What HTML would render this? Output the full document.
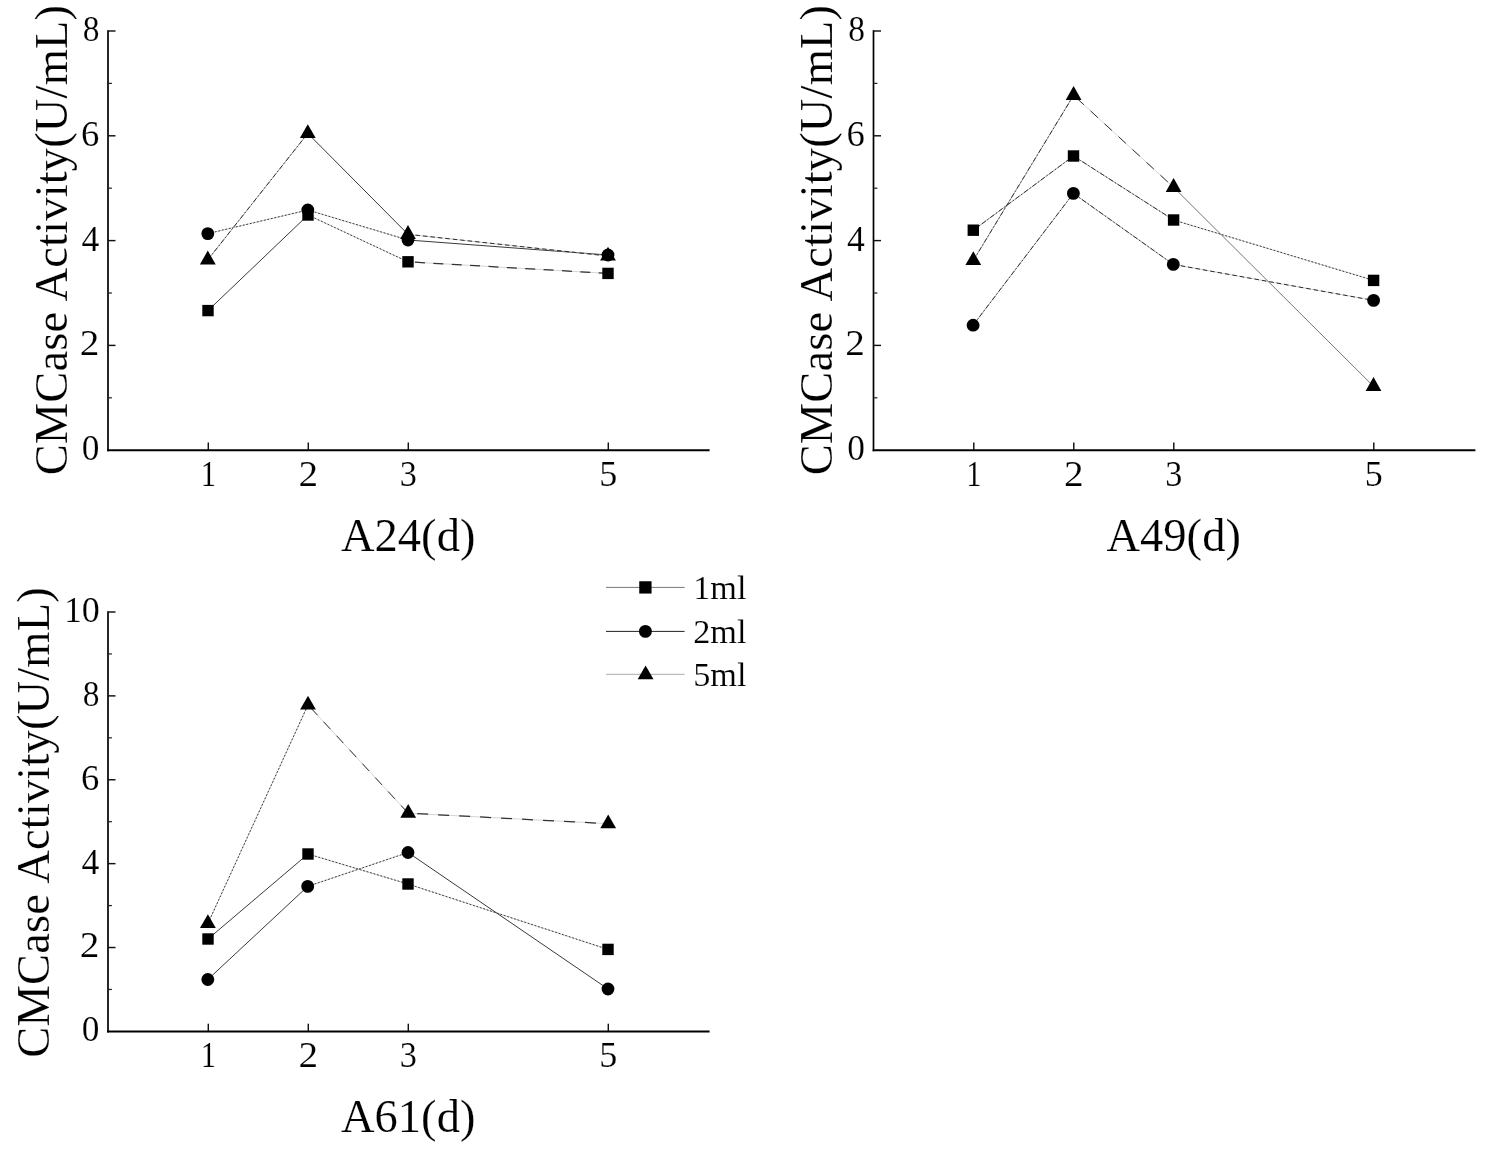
<!DOCTYPE html>
<html><head><meta charset="utf-8"><title>CMCase Activity</title>
<style>html,body{margin:0;padding:0;background:#fff;}svg{display:block;will-change:transform;}text{font-family:"Liberation Serif",serif;fill:#000;stroke:#fff;stroke-width:0.16px;}</style></head><body>
<svg width="1499" height="1149" viewBox="0 0 1499 1149">
<rect width="1499" height="1149" fill="#fff"/>
<g id="p1">
<line x1="108" y1="30.20" x2="108" y2="451.20" stroke="#000" stroke-width="1.7"/>
<line x1="107.15" y1="450.2" x2="709.6" y2="450.2" stroke="#000" stroke-width="2"/>
<text transform="translate(99.40 460.10) scale(0.98 1)" font-size="36" text-anchor="end">0</text>
<line x1="108" y1="397.80" x2="111.90" y2="397.80" stroke="#222" stroke-width="1.25"/>
<line x1="108" y1="345.40" x2="115.50" y2="345.40" stroke="#111" stroke-width="1.45"/>
<text transform="translate(99.40 355.30) scale(1.09 1)" font-size="36" text-anchor="end">2</text>
<line x1="108" y1="293.00" x2="111.90" y2="293.00" stroke="#222" stroke-width="1.25"/>
<line x1="108" y1="240.60" x2="115.50" y2="240.60" stroke="#111" stroke-width="1.45"/>
<text transform="translate(99.40 250.50) scale(0.99 1)" font-size="36" text-anchor="end">4</text>
<line x1="108" y1="188.20" x2="111.90" y2="188.20" stroke="#222" stroke-width="1.25"/>
<line x1="108" y1="135.80" x2="115.50" y2="135.80" stroke="#111" stroke-width="1.45"/>
<text transform="translate(99.40 145.70) scale(1.02 1)" font-size="36" text-anchor="end">6</text>
<line x1="108" y1="83.40" x2="111.90" y2="83.40" stroke="#222" stroke-width="1.25"/>
<line x1="108" y1="31.00" x2="115.50" y2="31.00" stroke="#111" stroke-width="1.45"/>
<text transform="translate(99.40 40.90) scale(0.93 1)" font-size="36" text-anchor="end">8</text>
<line x1="208.30" y1="450.2" x2="208.30" y2="442.50" stroke="#111" stroke-width="1.45"/>
<text transform="translate(208.30 485.80) scale(0.85 1)" font-size="36" text-anchor="middle">1</text>
<line x1="308.30" y1="450.2" x2="308.30" y2="442.50" stroke="#111" stroke-width="1.45"/>
<text transform="translate(308.30 485.80) scale(1.09 1)" font-size="36" text-anchor="middle">2</text>
<line x1="408.30" y1="450.2" x2="408.30" y2="442.50" stroke="#111" stroke-width="1.45"/>
<text transform="translate(408.30 485.80) scale(0.95 1)" font-size="36" text-anchor="middle">3</text>
<line x1="608.30" y1="450.2" x2="608.30" y2="442.50" stroke="#111" stroke-width="1.45"/>
<text transform="translate(608.30 485.80) scale(1.0 1)" font-size="36" text-anchor="middle">5</text>
<text x="408.20" y="551.20" font-size="46.5" text-anchor="middle" letter-spacing="0.05">A24(d)</text>
<text transform="translate(66.80 240.10) rotate(-90)" font-size="46.5" text-anchor="middle" letter-spacing="0.15" word-spacing="1.1">CMCase Activity(U/mL)</text>
<line x1="208.00" y1="310.60" x2="308.00" y2="215.00" stroke="#3a3a3a" stroke-width="1.0"/>
<line x1="308.00" y1="215.00" x2="408.00" y2="261.80" stroke="#b8b8b8" stroke-width="0.7"/>
<line x1="308.00" y1="215.00" x2="408.00" y2="261.80" stroke="#333" stroke-width="0.95" stroke-dasharray="1.8 1.8"/>
<line x1="408.00" y1="261.80" x2="608.00" y2="273.40" stroke="#d0d0d0" stroke-width="0.9"/>
<line x1="408.00" y1="261.80" x2="608.00" y2="273.40" stroke="#333" stroke-width="1.25" stroke-dasharray="10 8.4" stroke-dashoffset="-7"/>
<line x1="207.80" y1="233.60" x2="307.80" y2="210.00" stroke="#b8b8b8" stroke-width="0.7"/>
<line x1="207.80" y1="233.60" x2="307.80" y2="210.00" stroke="#333" stroke-width="0.95" stroke-dasharray="1.8 1.8"/>
<line x1="307.80" y1="210.00" x2="408.00" y2="240.00" stroke="#b8b8b8" stroke-width="0.7"/>
<line x1="307.80" y1="210.00" x2="408.00" y2="240.00" stroke="#333" stroke-width="0.95" stroke-dasharray="1.8 1.8"/>
<line x1="408.00" y1="240.00" x2="608.00" y2="255.00" stroke="#3a3a3a" stroke-width="1.0"/>
<line x1="207.80" y1="259.80" x2="307.80" y2="133.40" stroke="#999" stroke-width="0.8"/>
<line x1="207.80" y1="259.80" x2="307.80" y2="133.40" stroke="#2a2a2a" stroke-width="0.95" stroke-dasharray="5 2 1.5 2"/>
<line x1="307.80" y1="133.40" x2="408.00" y2="234.30" stroke="#3a3a3a" stroke-width="1.0"/>
<line x1="408.00" y1="234.30" x2="608.00" y2="256.00" stroke="#b8b8b8" stroke-width="0.7"/>
<line x1="408.00" y1="234.30" x2="608.00" y2="256.00" stroke="#2a2a2a" stroke-width="1" stroke-dasharray="4.5 3"/>
<rect x="202.30" y="304.90" width="11.40" height="11.40" fill="#000"/>
<rect x="302.30" y="209.30" width="11.40" height="11.40" fill="#000"/>
<rect x="402.30" y="256.10" width="11.40" height="11.40" fill="#000"/>
<rect x="602.30" y="267.70" width="11.40" height="11.40" fill="#000"/>
<circle cx="207.80" cy="233.60" r="6.40" fill="#000"/>
<circle cx="307.80" cy="210.00" r="6.40" fill="#000"/>
<circle cx="408.00" cy="240.00" r="6.40" fill="#000"/>
<circle cx="608.00" cy="255.00" r="6.40" fill="#000"/>
<path d="M207.80 250.60 L215.70 264.40 L199.90 264.40 Z" fill="#000"/>
<path d="M307.80 124.20 L315.70 138.00 L299.90 138.00 Z" fill="#000"/>
<path d="M408.00 225.10 L415.90 238.90 L400.10 238.90 Z" fill="#000"/>
<path d="M608.00 246.80 L615.90 260.60 L600.10 260.60 Z" fill="#000"/>
</g>
<g id="p2">
<line x1="873.5" y1="30.20" x2="873.5" y2="451.20" stroke="#000" stroke-width="1.7"/>
<line x1="872.65" y1="450.2" x2="1475.4" y2="450.2" stroke="#000" stroke-width="2"/>
<text transform="translate(864.90 460.10) scale(0.98 1)" font-size="36" text-anchor="end">0</text>
<line x1="873.5" y1="397.80" x2="877.40" y2="397.80" stroke="#222" stroke-width="1.25"/>
<line x1="873.5" y1="345.40" x2="881.00" y2="345.40" stroke="#111" stroke-width="1.45"/>
<text transform="translate(864.90 355.30) scale(1.09 1)" font-size="36" text-anchor="end">2</text>
<line x1="873.5" y1="293.00" x2="877.40" y2="293.00" stroke="#222" stroke-width="1.25"/>
<line x1="873.5" y1="240.60" x2="881.00" y2="240.60" stroke="#111" stroke-width="1.45"/>
<text transform="translate(864.90 250.50) scale(0.99 1)" font-size="36" text-anchor="end">4</text>
<line x1="873.5" y1="188.20" x2="877.40" y2="188.20" stroke="#222" stroke-width="1.25"/>
<line x1="873.5" y1="135.80" x2="881.00" y2="135.80" stroke="#111" stroke-width="1.45"/>
<text transform="translate(864.90 145.70) scale(1.02 1)" font-size="36" text-anchor="end">6</text>
<line x1="873.5" y1="83.40" x2="877.40" y2="83.40" stroke="#222" stroke-width="1.25"/>
<line x1="873.5" y1="31.00" x2="881.00" y2="31.00" stroke="#111" stroke-width="1.45"/>
<text transform="translate(864.90 40.90) scale(0.93 1)" font-size="36" text-anchor="end">8</text>
<line x1="973.80" y1="450.2" x2="973.80" y2="442.50" stroke="#111" stroke-width="1.45"/>
<text transform="translate(973.80 485.80) scale(0.85 1)" font-size="36" text-anchor="middle">1</text>
<line x1="1073.80" y1="450.2" x2="1073.80" y2="442.50" stroke="#111" stroke-width="1.45"/>
<text transform="translate(1073.80 485.80) scale(1.09 1)" font-size="36" text-anchor="middle">2</text>
<line x1="1173.80" y1="450.2" x2="1173.80" y2="442.50" stroke="#111" stroke-width="1.45"/>
<text transform="translate(1173.80 485.80) scale(0.95 1)" font-size="36" text-anchor="middle">3</text>
<line x1="1373.80" y1="450.2" x2="1373.80" y2="442.50" stroke="#111" stroke-width="1.45"/>
<text transform="translate(1373.80 485.80) scale(1.0 1)" font-size="36" text-anchor="middle">5</text>
<text x="1173.70" y="551.20" font-size="46.5" text-anchor="middle" letter-spacing="0.05">A49(d)</text>
<text transform="translate(832.10 240.10) rotate(-90)" font-size="46.5" text-anchor="middle" letter-spacing="0.15" word-spacing="1.1">CMCase Activity(U/mL)</text>
<line x1="973.30" y1="230.20" x2="1073.50" y2="156.00" stroke="#999" stroke-width="0.8"/>
<line x1="973.30" y1="230.20" x2="1073.50" y2="156.00" stroke="#2a2a2a" stroke-width="0.95" stroke-dasharray="5 2 1.5 2"/>
<line x1="1073.50" y1="156.00" x2="1173.60" y2="220.00" stroke="#999" stroke-width="0.8"/>
<line x1="1073.50" y1="156.00" x2="1173.60" y2="220.00" stroke="#2a2a2a" stroke-width="0.95" stroke-dasharray="5 2 1.5 2"/>
<line x1="1173.60" y1="220.00" x2="1373.60" y2="280.40" stroke="#b8b8b8" stroke-width="0.7"/>
<line x1="1173.60" y1="220.00" x2="1373.60" y2="280.40" stroke="#333" stroke-width="0.95" stroke-dasharray="1.8 1.8"/>
<line x1="973.10" y1="325.20" x2="1073.40" y2="193.40" stroke="#999" stroke-width="0.8"/>
<line x1="973.10" y1="325.20" x2="1073.40" y2="193.40" stroke="#2a2a2a" stroke-width="0.95" stroke-dasharray="5 2 1.5 2"/>
<line x1="1073.40" y1="193.40" x2="1173.30" y2="264.40" stroke="#999" stroke-width="0.8"/>
<line x1="1073.40" y1="193.40" x2="1173.30" y2="264.40" stroke="#2a2a2a" stroke-width="0.95" stroke-dasharray="5 2 1.5 2"/>
<line x1="1173.30" y1="264.40" x2="1373.60" y2="300.40" stroke="#b8b8b8" stroke-width="0.7"/>
<line x1="1173.30" y1="264.40" x2="1373.60" y2="300.40" stroke="#2a2a2a" stroke-width="1" stroke-dasharray="4.5 3"/>
<line x1="973.30" y1="260.50" x2="1073.60" y2="95.30" stroke="#999" stroke-width="0.8"/>
<line x1="973.30" y1="260.50" x2="1073.60" y2="95.30" stroke="#2a2a2a" stroke-width="0.95" stroke-dasharray="5 2 1.5 2"/>
<line x1="1073.60" y1="95.30" x2="1173.60" y2="187.30" stroke="#d0d0d0" stroke-width="0.9"/>
<line x1="1073.60" y1="95.30" x2="1173.60" y2="187.30" stroke="#333" stroke-width="1.0" stroke-dasharray="10 9" stroke-dashoffset="-4"/>
<line x1="1173.60" y1="187.30" x2="1373.50" y2="386.30" stroke="#777" stroke-width="1.0"/>
<rect x="967.60" y="224.50" width="11.40" height="11.40" fill="#000"/>
<rect x="1067.80" y="150.30" width="11.40" height="11.40" fill="#000"/>
<rect x="1167.90" y="214.30" width="11.40" height="11.40" fill="#000"/>
<rect x="1367.90" y="274.70" width="11.40" height="11.40" fill="#000"/>
<circle cx="973.10" cy="325.20" r="6.40" fill="#000"/>
<circle cx="1073.40" cy="193.40" r="6.40" fill="#000"/>
<circle cx="1173.30" cy="264.40" r="6.40" fill="#000"/>
<circle cx="1373.60" cy="300.40" r="6.40" fill="#000"/>
<path d="M973.30 251.30 L981.20 265.10 L965.40 265.10 Z" fill="#000"/>
<path d="M1073.60 86.10 L1081.50 99.90 L1065.70 99.90 Z" fill="#000"/>
<path d="M1173.60 178.10 L1181.50 191.90 L1165.70 191.90 Z" fill="#000"/>
<path d="M1373.50 377.10 L1381.40 390.90 L1365.60 390.90 Z" fill="#000"/>
</g>
<g id="p3">
<line x1="108" y1="611.20" x2="108" y2="1032.40" stroke="#000" stroke-width="1.7"/>
<line x1="107.15" y1="1031.4" x2="709.6" y2="1031.4" stroke="#000" stroke-width="2"/>
<text transform="translate(99.40 1041.30) scale(0.98 1)" font-size="36" text-anchor="end">0</text>
<line x1="108" y1="989.46" x2="111.90" y2="989.46" stroke="#222" stroke-width="1.25"/>
<line x1="108" y1="947.52" x2="115.50" y2="947.52" stroke="#111" stroke-width="1.45"/>
<text transform="translate(99.40 957.42) scale(1.09 1)" font-size="36" text-anchor="end">2</text>
<line x1="108" y1="905.58" x2="111.90" y2="905.58" stroke="#222" stroke-width="1.25"/>
<line x1="108" y1="863.64" x2="115.50" y2="863.64" stroke="#111" stroke-width="1.45"/>
<text transform="translate(99.40 873.54) scale(0.99 1)" font-size="36" text-anchor="end">4</text>
<line x1="108" y1="821.70" x2="111.90" y2="821.70" stroke="#222" stroke-width="1.25"/>
<line x1="108" y1="779.76" x2="115.50" y2="779.76" stroke="#111" stroke-width="1.45"/>
<text transform="translate(99.40 789.66) scale(1.02 1)" font-size="36" text-anchor="end">6</text>
<line x1="108" y1="737.82" x2="111.90" y2="737.82" stroke="#222" stroke-width="1.25"/>
<line x1="108" y1="695.88" x2="115.50" y2="695.88" stroke="#111" stroke-width="1.45"/>
<text transform="translate(99.40 705.78) scale(0.93 1)" font-size="36" text-anchor="end">8</text>
<line x1="108" y1="653.94" x2="111.90" y2="653.94" stroke="#222" stroke-width="1.25"/>
<line x1="108" y1="612.00" x2="115.50" y2="612.00" stroke="#111" stroke-width="1.45"/>
<text transform="translate(99.40 621.90) scale(1.0 1)" font-size="36" text-anchor="end" letter-spacing="-0.3">10</text>
<line x1="208.30" y1="1031.4" x2="208.30" y2="1023.70" stroke="#111" stroke-width="1.45"/>
<text transform="translate(208.30 1067.00) scale(0.85 1)" font-size="36" text-anchor="middle">1</text>
<line x1="308.30" y1="1031.4" x2="308.30" y2="1023.70" stroke="#111" stroke-width="1.45"/>
<text transform="translate(308.30 1067.00) scale(1.09 1)" font-size="36" text-anchor="middle">2</text>
<line x1="408.30" y1="1031.4" x2="408.30" y2="1023.70" stroke="#111" stroke-width="1.45"/>
<text transform="translate(408.30 1067.00) scale(0.95 1)" font-size="36" text-anchor="middle">3</text>
<line x1="608.30" y1="1031.4" x2="608.30" y2="1023.70" stroke="#111" stroke-width="1.45"/>
<text transform="translate(608.30 1067.00) scale(1.0 1)" font-size="36" text-anchor="middle">5</text>
<text x="408.20" y="1132.40" font-size="46.5" text-anchor="middle" letter-spacing="0.05">A61(d)</text>
<text transform="translate(48.80 822.40) rotate(-90)" font-size="46.5" text-anchor="middle" letter-spacing="0.15" word-spacing="1.1">CMCase Activity(U/mL)</text>
<line x1="208.00" y1="939.00" x2="308.00" y2="854.00" stroke="#3a3a3a" stroke-width="1.0"/>
<line x1="308.00" y1="854.00" x2="408.00" y2="884.00" stroke="#b8b8b8" stroke-width="0.7"/>
<line x1="308.00" y1="854.00" x2="408.00" y2="884.00" stroke="#333" stroke-width="0.95" stroke-dasharray="1.8 1.8"/>
<line x1="408.00" y1="884.00" x2="608.00" y2="949.40" stroke="#b8b8b8" stroke-width="0.7"/>
<line x1="408.00" y1="884.00" x2="608.00" y2="949.40" stroke="#333" stroke-width="0.95" stroke-dasharray="1.8 1.8"/>
<line x1="207.80" y1="979.50" x2="307.70" y2="886.40" stroke="#3a3a3a" stroke-width="1.0"/>
<line x1="307.70" y1="886.40" x2="408.00" y2="852.50" stroke="#b8b8b8" stroke-width="0.7"/>
<line x1="307.70" y1="886.40" x2="408.00" y2="852.50" stroke="#333" stroke-width="0.95" stroke-dasharray="1.8 1.8"/>
<line x1="408.00" y1="852.50" x2="608.00" y2="989.00" stroke="#3a3a3a" stroke-width="1.0"/>
<line x1="207.90" y1="923.50" x2="308.00" y2="704.90" stroke="#b8b8b8" stroke-width="0.7"/>
<line x1="207.90" y1="923.50" x2="308.00" y2="704.90" stroke="#333" stroke-width="0.95" stroke-dasharray="1.8 1.8"/>
<line x1="308.00" y1="704.90" x2="408.20" y2="813.20" stroke="#d0d0d0" stroke-width="0.9"/>
<line x1="308.00" y1="704.90" x2="408.20" y2="813.20" stroke="#333" stroke-width="1.0" stroke-dasharray="10 9" stroke-dashoffset="-4"/>
<line x1="408.20" y1="813.20" x2="608.20" y2="823.70" stroke="#d0d0d0" stroke-width="0.9"/>
<line x1="408.20" y1="813.20" x2="608.20" y2="823.70" stroke="#333" stroke-width="1.25" stroke-dasharray="11 10" stroke-dashoffset="-9"/>
<rect x="202.30" y="933.30" width="11.40" height="11.40" fill="#000"/>
<rect x="302.30" y="848.30" width="11.40" height="11.40" fill="#000"/>
<rect x="402.30" y="878.30" width="11.40" height="11.40" fill="#000"/>
<rect x="602.30" y="943.70" width="11.40" height="11.40" fill="#000"/>
<circle cx="207.80" cy="979.50" r="6.40" fill="#000"/>
<circle cx="307.70" cy="886.40" r="6.40" fill="#000"/>
<circle cx="408.00" cy="852.50" r="6.40" fill="#000"/>
<circle cx="608.00" cy="989.00" r="6.40" fill="#000"/>
<path d="M207.90 914.30 L215.80 928.10 L200.00 928.10 Z" fill="#000"/>
<path d="M308.00 695.70 L315.90 709.50 L300.10 709.50 Z" fill="#000"/>
<path d="M408.20 804.00 L416.10 817.80 L400.30 817.80 Z" fill="#000"/>
<path d="M608.20 814.50 L616.10 828.30 L600.30 828.30 Z" fill="#000"/>
</g>
<g id="legend">
<line x1="606" y1="587.4" x2="684.6" y2="587.4" stroke="#777" stroke-width="1"/>
<text x="693.2" y="599.0" font-size="34.3">1ml</text>
<line x1="606" y1="631.4" x2="684.6" y2="631.4" stroke="#222" stroke-width="1"/>
<text x="693.2" y="642.8" font-size="34.3">2ml</text>
<line x1="606" y1="674.3" x2="684.6" y2="674.3" stroke="#aaa" stroke-width="1"/>
<text x="693.2" y="685.8" font-size="34.3">5ml</text>
<rect x="639.25" y="581.25" width="12.30" height="12.30" fill="#000"/>
<circle cx="645.40" cy="631.40" r="6.45" fill="#000"/>
<path d="M645.60 665.40 L653.50 679.20 L637.70 679.20 Z" fill="#000"/>
</g>
</svg></body></html>
